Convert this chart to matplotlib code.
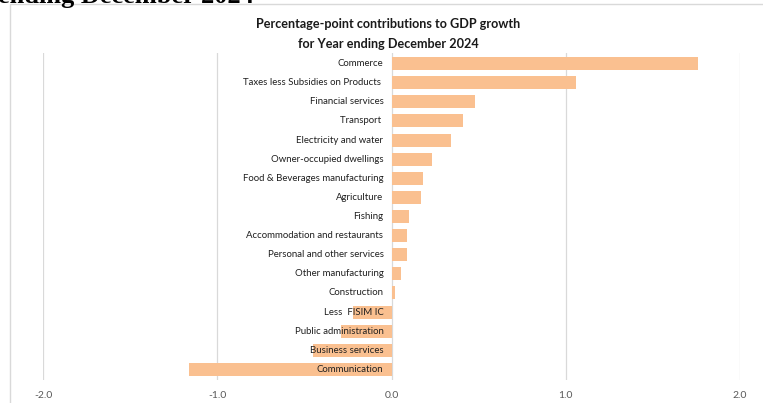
import matplotlib
matplotlib.use("Agg")
import matplotlib.pyplot as plt
from matplotlib.patches import Rectangle
from matplotlib.transforms import offset_copy

sectors = [
    "Commerce",
    "Taxes less Subsidies on Products ",
    "Financial services",
    "Transport ",
    "Electricity and water",
    "Owner-occupied dwellings",
    "Food & Beverages manufacturing",
    "Agriculture",
    "Fishing",
    "Accommodation and restaurants",
    "Personal and other services",
    "Other manufacturing",
    "Construction",
    "Less  FISIM IC",
    "Public administration",
    "Business services",
    "Communication",
]
contributions = [1.76, 1.06, 0.48, 0.41, 0.34, 0.23, 0.18, 0.17, 0.10,
                 0.09, 0.09, 0.055, 0.02, -0.22, -0.29, -0.45, -1.16]
x_ticks = [-2.0, -1.0, 0.0, 1.0, 2.0]
x_tick_labels = ["-2.0", "-1.0", "0.0", "1.0", "2.0"]

W, H = 763, 403
fig = plt.figure(figsize=(W / 100, H / 100), dpi=100)
fig.patch.set_facecolor("white")

# Heading of the surrounding page, partly cut off at the top
fig.text(-0.002, 1 - 3 / H, "ending December 2024", family="Liberation Serif",
         fontweight="bold", fontsize=19, va="baseline", ha="left", color="black")

# Chart frame
fig.patches.append(Rectangle((10 / W, -0.1), 1.2, 1 - 4 / H + 0.1,
                             transform=fig.transFigure, fill=False,
                             edgecolor="#D9D9D9", linewidth=1.0))

ax = fig.add_axes([43 / W, 1 - 380 / H, (740 - 43) / W, (380 - 53) / H])
ypos = list(range(len(sectors)))
ax.barh(ypos, contributions, height=0.68, color="#FAC090", zorder=2)
ax.set_xlim(-2.0, 2.0)
ax.set_ylim(len(sectors) - 0.45, -0.55)

ax.set_xticks(x_ticks)
ax.set_xticklabels(x_tick_labels, family="Lato", fontsize=7.5, color="#595959")
ax.tick_params(axis="x", length=0, pad=8)
ax.set_yticks([])
ax.grid(axis="x", color="#D9D9D9", linewidth=0.9, zorder=0)
for s in ax.spines.values():
    s.set_visible(False)

label_tf = offset_copy(ax.transData, fig=fig, x=-8, y=0, units="dots")
for y, name in zip(ypos, sectors):
    ax.text(0, y, name, transform=label_tf, ha="right", va="center",
            family="Lato", fontsize=6.9, color="#1f1f1f", zorder=3)

fig.text(388 / W, 1 - 24 / H, "Percentage-point contributions to GDP growth",
         family="Lato", fontweight="bold", fontsize=9.1, ha="center", va="center",
         color="#1a1a1a")
fig.text(388 / W, 1 - 44 / H, "for Year ending December 2024",
         family="Lato", fontweight="bold", fontsize=9.1, ha="center", va="center",
         color="#1a1a1a")

fig.savefig("out.png", dpi=100)
